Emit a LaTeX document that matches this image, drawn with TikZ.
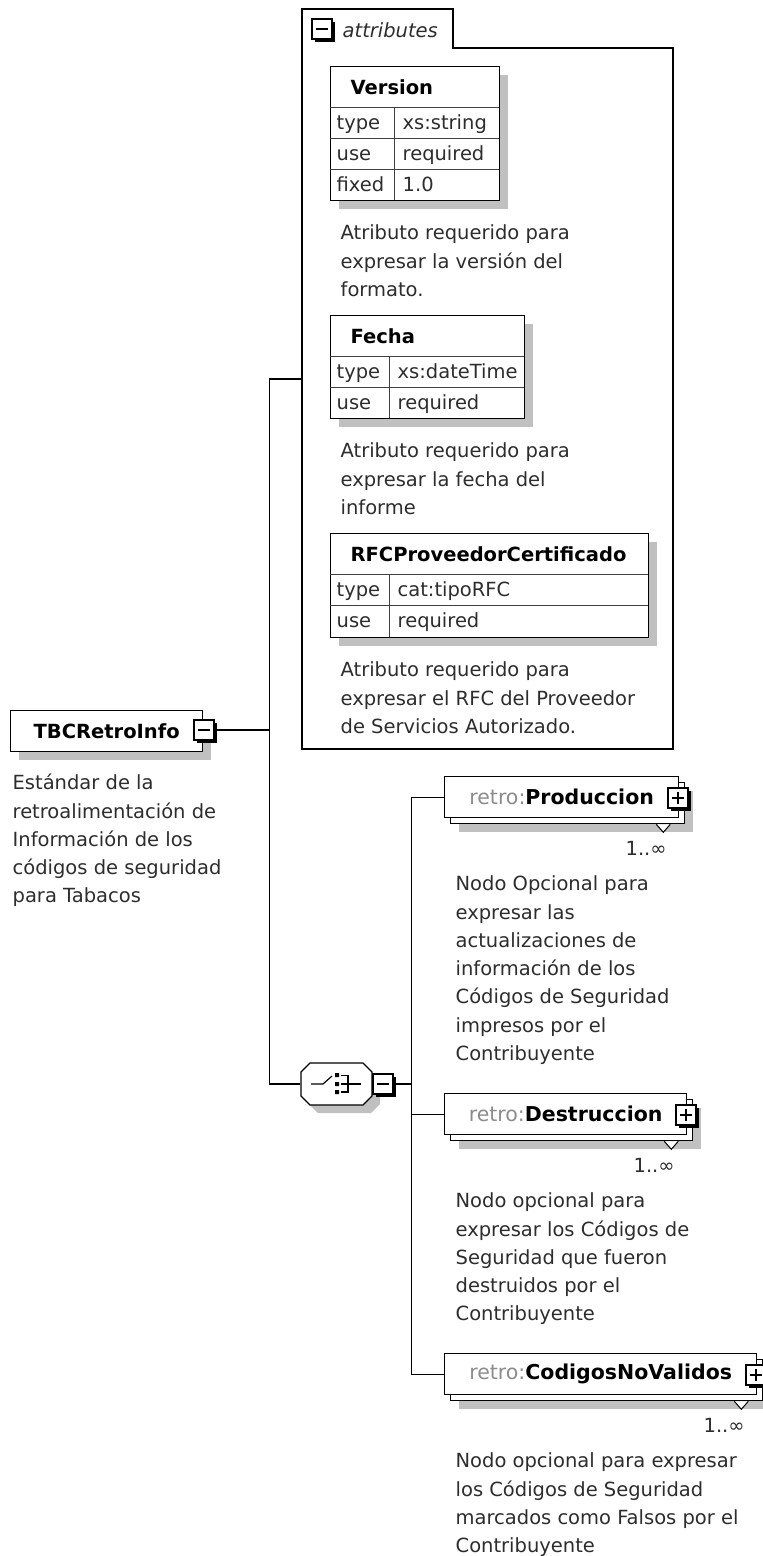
\documentclass[tikz,border=0pt]{standalone}
\usepackage{fontspec}
\setmainfont{DejaVu Sans}
\usetikzlibrary{positioning, shadows}
\definecolor{shadowgray}{RGB}{192,192,192}
\definecolor{nsgray}{RGB}{140,140,140}
\definecolor{txtgray}{RGB}{45,45,45}

\begin{document}
\begin{tikzpicture}[x=1pt, y=-1pt, line width=1.3pt,
    every node/.style={inner sep=0pt, font=\fontsize{19.5}{28.3}\selectfont},
    dropped/.style={drop shadow={shadow xshift=8pt, shadow yshift=-8pt, fill=shadowgray, opacity=1}},
    namebox/.style={draw, fill=white, anchor=north west, minimum height=41pt, dropped, font=\fontsize{19.5}{28.3}\selectfont\bfseries},
    attbox/.style={draw, fill=white, anchor=north west, dropped},
    elback/.style={draw, fill=white, anchor=north west, minimum height=41pt, dropped},
    elbox/.style={draw, fill=white, anchor=north west, minimum height=41pt, font=\fontsize{20.5}{28.3}\selectfont},
    btnbox/.style={draw, fill=white, minimum width=20pt, minimum height=20pt, line width=1.3pt,
        drop shadow={shadow xshift=2.5pt, shadow yshift=-2.5pt, fill=black, opacity=1}},
    attname/.style={anchor=base west, font=\fontsize{19.5}{28.3}\selectfont\bfseries},
    cell/.style={anchor=base west, text=txtgray},
    cellline/.style={line width=0.8pt, black!75},
    desc/.style={anchor=north west, align=left, text=txtgray},
    card/.style={anchor=base east, text=txtgray},
    tri/.style={fill=white, line width=1pt}]

\fill[white] (0,0) rectangle (763,1556);
\useasboundingbox (0,0) rectangle (763,1556);

% attributes
\draw[fill=white] (302,9) -- (453,9) -- (453,48) -- (673,48) -- (673,749) -- (302,749) -- cycle;
\coordinate (attrs) at (302,379);
\node (attrbtn) [btnbox] at (322,29) {};
\draw[line width=1.3pt] ([xshift=-6pt]attrbtn.center) -- ([xshift=6pt]attrbtn.center);
\node (attrlbl) [anchor=base west, text=txtgray, font=\fontsize{19.5}{28.3}\selectfont\itshape] at (342,37) {attributes};

\node (ver) [attbox, minimum width=169pt, minimum height=134pt] at (330,66) {};
\draw[cellline] (330,107) -- (499,107) (330,138) -- (499,138) (330,169) -- (499,169) (394,107) -- (394,200);
\node (vername) [attname] at (350,94) {Version};
\foreach \k/\v [count=\i] in {type/xs:string, use/required, fixed/1.0} {
    \node (verk\i) [cell] at (336,98.5+31*\i) {\k};
    \node (verv\i) [cell] at (402,98.5+31*\i) {\v};
}
\node (verdesc) [desc] at ([xshift=10pt, yshift=-18pt]ver.south west)
    {\strut Atributo requerido para\\expresar la versión del\\formato.};

\node (fec) [attbox, minimum width=194pt, minimum height=103pt] at (330,315) {};
\draw[cellline] (330,356) -- (524,356) (330,387) -- (524,387) (389,356) -- (389,418);
\node (fecname) [attname] at (350,343) {Fecha};
\foreach \k/\v [count=\i] in {type/xs:dateTime, use/required} {
    \node (feck\i) [cell] at (336,347.5+31*\i) {\k};
    \node (fecv\i) [cell] at (397,347.5+31*\i) {\v};
}
\node (fecdesc) [desc] at ([xshift=10pt, yshift=-18pt]fec.south west)
    {\strut Atributo requerido para\\expresar la fecha del\\informe};

\node (rfc) [attbox, minimum width=318pt, minimum height=104pt] at (330,533) {};
\draw[cellline] (330,574) -- (648,574) (330,605) -- (648,605) (389,574) -- (389,637);
\node (rfcname) [attname] at (350,561) {RFCProveedorCertificado};
\foreach \k/\v [count=\i] in {type/cat:tipoRFC, use/required} {
    \node (rfck\i) [cell] at (336,565.5+31*\i) {\k};
    \node (rfcv\i) [cell] at (397,565.5+31*\i) {\v};
}
\node (rfcdesc) [desc] at ([xshift=10pt, yshift=-18pt]rfc.south west)
    {\strut Atributo requerido para\\expresar el RFC del Proveedor\\de Servicios Autorizado.};

% root element
\node (tbc) [namebox, minimum width=192pt] at (10,710) {TBCRetroInfo};
\node (tbcbtn) [btnbox] at (204,730) {};
\draw[line width=1.3pt] ([xshift=-6pt]tbcbtn.center) -- ([xshift=6pt]tbcbtn.center);
\node (tbcdesc) [desc] at ([xshift=2pt, yshift=-17pt]tbc.south west)
    {\strut Estándar de la\\retroalimentación de\\Información de los\\códigos de seguridad\\para Tabacos};

% sequence
\node (seq) [minimum width=71pt, minimum height=42pt] at (336.5,1084) {};
\fill[shadowgray, shift={(8,8)}] (310,1063) -- (363,1063) -- (372,1072) -- (372,1096) -- (363,1105) -- (310,1105) -- (301,1096) -- (301,1072) -- cycle;
\draw[fill=white] (310,1063) -- (363,1063) -- (372,1072) -- (372,1096) -- (363,1105) -- (310,1105) -- (301,1096) -- (301,1072) -- cycle;
\draw[line width=1.2pt] (311,1084) -- (323,1084) -- (332,1076);
\fill (335,1073) rectangle (339,1077) (335,1082) rectangle (339,1086) (335,1090) rectangle (339,1094);
\draw[line width=1.2pt] (341,1075.5) -- (348,1075.5) -- (348,1092) -- (341,1092) (341,1084) -- (361,1084);
\node (seqbtn) [btnbox] at (383,1084) {};
\draw[line width=1.3pt] ([xshift=-6pt]seqbtn.center) -- ([xshift=6pt]seqbtn.center);

% children
\node (prodback) [elback, minimum width=234pt] at (450,782) {};
\node (prod) [elbox, minimum width=234pt] at (444,776) {{\color{nsgray}retro:}\textbf{Produccion}};
\node (prodbtn) [btnbox] at (678,798) {};
\draw[line width=1.3pt] ([xshift=-6pt]prodbtn.center) -- ([xshift=6pt]prodbtn.center)
    ([yshift=-6pt]prodbtn.center) -- ([yshift=6pt]prodbtn.center);
\draw[tri] ([xshift=-29pt]prodback.south east) -- ++(7,8) -- ++(7,-8);
\node (prodcard) [card] at ([xshift=-12pt, yshift=-37pt]prod.south east) {1..∞};
\node (proddesc) [desc] at ([xshift=11pt, yshift=-52pt]prod.south west)
    {\strut Nodo Opcional para\\expresar las\\actualizaciones de\\información de los\\Códigos de Seguridad\\impresos por el\\Contribuyente};

\node (destback) [elback, minimum width=242pt] at (450,1099) {};
\node (dest) [elbox, minimum width=242pt] at (444,1093) {{\color{nsgray}retro:}\textbf{Destruccion}};
\node (destbtn) [btnbox] at (686,1115) {};
\draw[line width=1.3pt] ([xshift=-6pt]destbtn.center) -- ([xshift=6pt]destbtn.center)
    ([yshift=-6pt]destbtn.center) -- ([yshift=6pt]destbtn.center);
\draw[tri] ([xshift=-29pt]destback.south east) -- ++(7,8) -- ++(7,-8);
\node (destcard) [card] at ([xshift=-12pt, yshift=-37pt]dest.south east) {1..∞};
\node (destdesc) [desc] at ([xshift=11pt, yshift=-52pt]dest.south west)
    {\strut Nodo opcional para\\expresar los Códigos de\\Seguridad que fueron\\destruidos por el\\Contribuyente};

\node (cnvback) [elback, minimum width=312pt] at (450,1359) {};
\node (cnv) [elbox, minimum width=312pt] at (444,1353) {{\color{nsgray}retro:}\textbf{CodigosNoValidos}};
\node (cnvbtn) [btnbox] at (756,1375) {};
\draw[line width=1.3pt] ([xshift=-6pt]cnvbtn.center) -- ([xshift=6pt]cnvbtn.center)
    ([yshift=-6pt]cnvbtn.center) -- ([yshift=6pt]cnvbtn.center);
\draw[tri] ([xshift=-29pt]cnvback.south east) -- ++(7,8) -- ++(7,-8);
\node (cnvcard) [card] at ([xshift=-12pt, yshift=-37pt]cnv.south east) {1..∞};
\node (cnvdesc) [desc] at ([xshift=11pt, yshift=-52pt]cnv.south west)
    {\strut Nodo opcional para expresar\\los Códigos de Seguridad\\marcados como Falsos por el\\Contribuyente};

% connectors
\draw (tbcbtn.east) -- ++(55,0) |- (attrs);
\draw (tbcbtn.east) -- ++(55,0) |- (seq.west);
\draw (seqbtn.east) -- ++(18,0) |- (prod.west);
\draw (seqbtn.east) -- ++(18,0) |- (dest.west);
\draw (seqbtn.east) -- ++(18,0) |- (cnv.west);
\end{tikzpicture}
\end{document}
